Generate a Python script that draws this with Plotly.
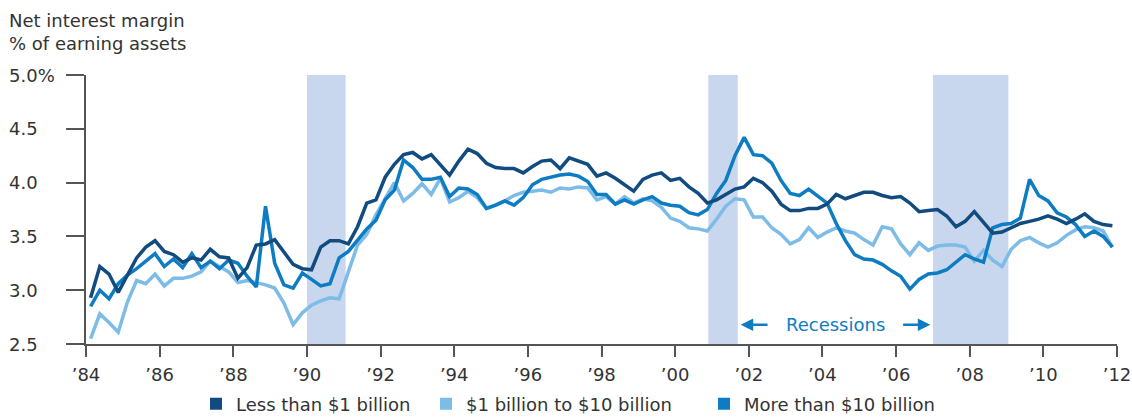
import plotly.graph_objects as go

# ---------------- data ----------------
years = list(range(1984, 2012))
quarters = [1, 2, 3, 4]
# quarterly observations, plotted at mid-quarter
dates = [y + (q - 0.5) / 4 for y in years for q in quarters]

less_than_1b = [
    2.93, 3.22, 3.15, 2.98,  # 1984
    3.14, 3.30, 3.40, 3.46,  # 1985
    3.36, 3.33, 3.26, 3.30,  # 1986
    3.28, 3.38, 3.31, 3.30,  # 1987
    3.11, 3.21, 3.42, 3.43,  # 1988
    3.47, 3.36, 3.24, 3.20,  # 1989
    3.19, 3.40, 3.46, 3.46,  # 1990
    3.43, 3.59, 3.81, 3.84,  # 1991
    4.05, 4.17, 4.26, 4.28,  # 1992
    4.22, 4.26, 4.17, 4.07,  # 1993
    4.20, 4.31, 4.27, 4.18,  # 1994
    4.14, 4.13, 4.13, 4.09,  # 1995
    4.15, 4.20, 4.21, 4.13,  # 1996
    4.23, 4.20, 4.17, 4.06,  # 1997
    4.09, 4.04, 3.98, 3.92,  # 1998
    4.03, 4.07, 4.09, 4.02,  # 1999
    4.04, 3.96, 3.90, 3.81,  # 2000
    3.84, 3.89, 3.94, 3.96,  # 2001
    4.04, 4.00, 3.92, 3.80,  # 2002
    3.74, 3.74, 3.76, 3.76,  # 2003
    3.80, 3.89, 3.85, 3.88,  # 2004
    3.91, 3.91, 3.88, 3.86,  # 2005
    3.87, 3.81, 3.73, 3.74,  # 2006
    3.75, 3.69, 3.59, 3.64,  # 2007
    3.73, 3.63, 3.53, 3.54,  # 2008
    3.58, 3.62, 3.64, 3.66,  # 2009
    3.69, 3.66, 3.62, 3.66,  # 2010
    3.71, 3.64, 3.61, 3.60,  # 2011
]

one_to_ten_b = [
    2.55, 2.78, 2.70, 2.61,  # 1984
    2.89, 3.09, 3.06, 3.15,  # 1985
    3.04, 3.11, 3.11, 3.13,  # 1986
    3.17, 3.27, 3.22, 3.17,  # 1987
    3.07, 3.09, 3.07, 3.05,  # 1988
    3.02, 2.88, 2.68, 2.79,  # 1989
    2.86, 2.90, 2.93, 2.92,  # 1990
    3.17, 3.42, 3.52, 3.70,  # 1991
    3.85, 4.00, 3.83, 3.90,  # 1992
    3.99, 3.89, 4.04, 3.82,  # 1993
    3.86, 3.92, 3.86, 3.76,  # 1994
    3.79, 3.83, 3.88, 3.91,  # 1995
    3.92, 3.93, 3.91, 3.95,  # 1996
    3.94, 3.96, 3.95, 3.84,  # 1997
    3.87, 3.80, 3.87, 3.81,  # 1998
    3.85, 3.83, 3.77, 3.67,  # 1999
    3.64, 3.58, 3.57, 3.55,  # 2000
    3.66, 3.78, 3.85, 3.84,  # 2001
    3.68, 3.68, 3.58, 3.52,  # 2002
    3.43, 3.47, 3.58, 3.49,  # 2003
    3.54, 3.58, 3.55, 3.53,  # 2004
    3.47, 3.42, 3.59, 3.57,  # 2005
    3.43, 3.33, 3.44, 3.37,  # 2006
    3.41, 3.42, 3.42, 3.40,  # 2007
    3.27, 3.37, 3.28, 3.22,  # 2008
    3.38, 3.46, 3.49, 3.44,  # 2009
    3.40, 3.44, 3.51, 3.56,  # 2010
    3.59, 3.58, 3.55, 3.40,  # 2011
]

more_than_10b = [
    2.85, 3.00, 2.92, 3.06,  # 1984
    3.14, 3.20, 3.27, 3.34,  # 1985
    3.22, 3.29, 3.21, 3.34,  # 1986
    3.21, 3.27, 3.20, 3.28,  # 1987
    3.25, 3.13, 3.03, 3.78,  # 1988
    3.25, 3.05, 3.02, 3.16,  # 1989
    3.10, 3.04, 3.06, 3.30,  # 1990
    3.36, 3.46, 3.57, 3.65,  # 1991
    3.84, 3.93, 4.21, 4.14,  # 1992
    4.03, 4.03, 4.05, 3.87,  # 1993
    3.95, 3.94, 3.89, 3.76,  # 1994
    3.79, 3.83, 3.79, 3.86,  # 1995
    3.98, 4.03, 4.05, 4.07,  # 1996
    4.08, 4.06, 4.01, 3.89,  # 1997
    3.89, 3.80, 3.84, 3.80,  # 1998
    3.84, 3.87, 3.81, 3.79,  # 1999
    3.78, 3.72, 3.70, 3.75,  # 2000
    3.90, 4.02, 4.25, 4.42,  # 2001
    4.26, 4.25, 4.18, 4.02,  # 2002
    3.90, 3.88, 3.94, 3.87,  # 2003
    3.81, 3.62, 3.46, 3.33,  # 2004
    3.29, 3.28, 3.24, 3.18,  # 2005
    3.13, 3.01, 3.10, 3.15,  # 2006
    3.16, 3.19, 3.26, 3.33,  # 2007
    3.29, 3.26, 3.58, 3.61,  # 2008
    3.62, 3.67, 4.03, 3.88,  # 2009
    3.83, 3.72, 3.68, 3.61,  # 2010
    3.50, 3.55, 3.50, 3.40,  # 2011
]

series_names = ["Less than $1 billion", "$1 billion to $10 billion", "More than $10 billion"]

recession_start = [1990.0, 2000.9, 2007.0]
recession_end = [1991.05, 2001.7, 2009.05]

x_tick_vals = list(range(1984, 2013, 2))
x_tick_text = ["\u2019" + str(y)[2:] for y in x_tick_vals]
y_tick_vals = [2.5, 3.0, 3.5, 4.0, 4.5, 5.0]
y_tick_text = ["2.5", "3.0", "3.5", "4.0", "4.5", "5.0%"]

# ---------------- style ----------------
FONT = "DejaVu Sans"
TXT = "#333333"
AX = "#555555"
C_DARK = "#114B7F"
C_LIGHT = "#7DBCE7"
C_MID = "#0E7CC2"
C_BAND = "#C9D7EE"

W, H = 1132, 419
L, R, T, B = 86, 15, 75, 75
PW = W - L - R
PH = H - T - B


def px_to_paper_x(px):
    return (px - L) / PW


def px_to_paper_y(py):
    return (H - B - py) / PH


fig = go.Figure()

series = [
    (one_to_ten_b, series_names[1], C_LIGHT, "legend2"),
    (more_than_10b, series_names[2], C_MID, "legend3"),
    (less_than_1b, series_names[0], C_DARK, "legend"),
]
for vals, name, col, _ in series:
    fig.add_trace(go.Scatter(x=dates, y=vals, mode="lines", name=name,
                             line=dict(color=col, width=3.5),
                             showlegend=False, hoverinfo="x+y"))

# legend entries as squares
for vals, name, col, lg in series:
    fig.add_trace(go.Scatter(x=[None], y=[None], mode="markers", name=name,
                             marker=dict(symbol="square", size=16, color=col),
                             showlegend=True, legend=lg))

for s, e in zip(recession_start, recession_end):
    fig.add_shape(type="rect", xref="x", yref="y", x0=s, x1=e,
                  y0=y_tick_vals[0], y1=y_tick_vals[-1],
                  fillcolor=C_BAND, line=dict(width=0), layer="below")

annotations = []
for v, t in zip(y_tick_vals, y_tick_text):
    annotations.append(dict(xref="paper", yref="y", x=px_to_paper_x(7), y=v,
                            text=t, showarrow=False, xanchor="left",
                            yanchor="middle",
                            font=dict(family=FONT, size=18, color=TXT)))

annotations.append(dict(xref="paper", yref="paper", x=px_to_paper_x(7),
                        y=px_to_paper_y(8), xanchor="left", yanchor="top",
                        align="left", showarrow=False,
                        text="Net interest margin<br>% of earning assets",
                        font=dict(family=FONT, size=18, color=TXT)))

# Recessions label with arrows
annotations.append(dict(xref="x", yref="y", x=2004.35, y=2.68,
                        text="Recessions", showarrow=False,
                        font=dict(family=FONT, size=18, color=C_MID)))
annotations.append(dict(xref="x", yref="y", x=2001.78, y=2.68,
                        axref="x", ayref="y", ax=2002.55, ay=2.68,
                        text="", showarrow=True, arrowhead=2, arrowsize=1,
                        arrowwidth=2.5, arrowcolor=C_MID))
annotations.append(dict(xref="x", yref="y", x=2006.93, y=2.68,
                        axref="x", ayref="y", ax=2006.15, ay=2.68,
                        text="", showarrow=True, arrowhead=2, arrowsize=1,
                        arrowwidth=2.5, arrowcolor=C_MID))

legend_common = dict(orientation="h", yanchor="middle", xanchor="left",
                     y=px_to_paper_y(404), bgcolor="rgba(0,0,0,0)",
                     font=dict(family=FONT, size=18, color=TXT),
                     itemsizing="constant")

fig.update_layout(
    width=W, height=H,
    margin=dict(l=L, r=R, t=T, b=B, autoexpand=False),
    paper_bgcolor="white", plot_bgcolor="white",
    font=dict(family=FONT, size=18, color=TXT),
    annotations=annotations,
    legend=dict(x=px_to_paper_x(196), **legend_common),
    legend2=dict(x=px_to_paper_x(426), **legend_common),
    legend3=dict(x=px_to_paper_x(704), **legend_common),
    xaxis=dict(range=[1984, 2012], tickvals=x_tick_vals, ticktext=x_tick_text,
               ticks="outside", ticklen=11, tickwidth=1.5, tickcolor=AX,
               showline=True, linecolor=AX, linewidth=1.5, showgrid=False,
               zeroline=False, automargin=False, ticklabelstandoff=3,
               tickfont=dict(family=FONT, size=18, color=TXT)),
    yaxis=dict(range=[2.5, 5.0], tickvals=y_tick_vals, showticklabels=False,
               ticks="outside", ticklen=18, tickwidth=1.5, tickcolor=AX,
               showline=True, linecolor=AX, linewidth=1.5, showgrid=False,
               zeroline=False, automargin=False),
)

fig.write_html("out.html",
               config={"displayModeBar": False},
               post_script="document.body.style.margin='0px';"
                           "document.body.style.overflow='hidden';")
